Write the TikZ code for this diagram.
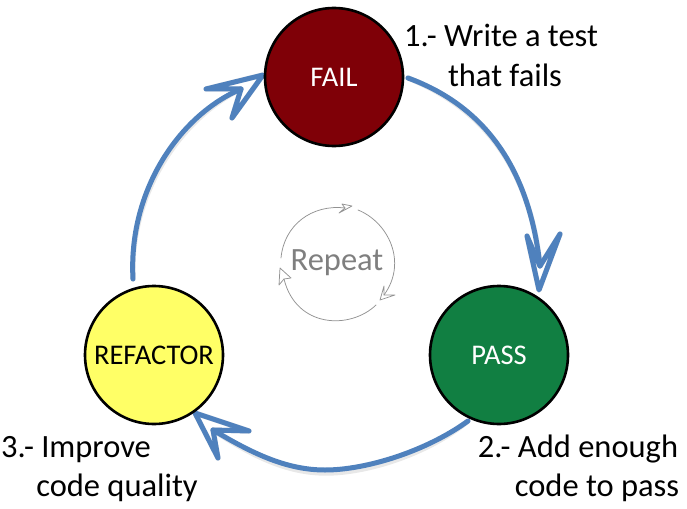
\documentclass[tikz,border=0pt]{standalone}
\usepackage{fontspec}
\setmainfont{Carlito}
\definecolor{flowblue}{HTML}{4F81BD}
\definecolor{failred}{HTML}{7F0007}
\definecolor{passgreen}{HTML}{117F42}
\definecolor{refyellow}{HTML}{FFFF66}
\definecolor{repgray}{HTML}{7F7F7F}
\tikzset{
  state/.style={circle,draw=black,line width=2.6pt,minimum size=138pt,inner sep=0pt,font=\fontsize{28.5}{32}\selectfont},
  step label/.style={font=\fontsize{32.5}{38}\selectfont,text=black,inner sep=0pt,align=center},
  flow/.style={draw=flowblue,line width=5pt,line cap=round,line join=round,fill=none},
  flowshadow/.style={draw=black,opacity=.09,line width=5.4pt,line cap=round,line join=round,fill=none,shift={(1,3)}},
  thin flow/.style={draw=repgray!85,line width=.75pt,line cap=round,line join=round,fill=none},
}
\begin{document}
\begin{tikzpicture}[x=1pt,y=-1pt]
\useasboundingbox (0,0) rectangle (687,508);

% arrow end points
\coordinate (a1s) at (408,78);
\coordinate (a1n) at (540,266);
\coordinate (a1t) at (539,290);
\coordinate (a1l) at (527,236);
\coordinate (a1r) at (560,234);
\coordinate (a2s) at (468,421);
\coordinate (a2n) at (213,430);
\coordinate (a2t) at (195,413);
\coordinate (a2l) at (249,431);
\coordinate (a2r) at (218,458);
\coordinate (a3s) at (133,279);
\coordinate (a3n) at (241,89);
\coordinate (a3t) at (263,75);
\coordinate (a3l) at (206,89);
\coordinate (a3r) at (232,118);

\foreach \st in {flowshadow,flow}{
  \path[\st] (a1s) .. controls (490,108) and (530,175) .. (a1n);
  \path[\st] (a1l) -- (a1n) -- (a1r) -- (a1t) -- cycle;
  \path[\st] (a2s) .. controls (425,452) and (365,470) .. (325,470) .. controls (285,470) and (250,452) .. (a2n);
  \path[\st] (a2l) -- (a2n) -- (a2r) -- (a2t) -- cycle;
  \path[\st] (a3s) .. controls (128,190) and (180,115) .. (a3n);
  \path[\st] (a3l) -- (a3n) -- (a3r) -- (a3t) -- cycle;
}

\node[state,fill=failred,text=white] (fail) at (334,77) {FAIL};
\node[state,fill=passgreen,text=white] (pass) at (499,355) {PASS};
\node[state,fill=refyellow,text=black] (refactor) at (154,355) {REFACTOR};

\node[step label,anchor=base] (l1a) at (501,47) {1.- Write a test};
\node[step label,anchor=base] (l1b) at (505,87) {that fails};
\node[step label,anchor=base] (l2a) at (578,457) {2.- Add enough};
\node[step label,anchor=base] (l2b) at (597,496) {code to pass};
\node[step label,anchor=base] (l3a) at (76,457) {3.- Improve};
\node[step label,anchor=base] (l3b) at (117,496) {code quality};

\node[font=\fontsize{32.5}{38}\selectfont,text=repgray,inner sep=0pt,anchor=base] (rep) at (337,270) {Repeat};

% repeat cycle
\coordinate (r1s) at (281,258);
\coordinate (r1t) at (352,206);
\coordinate (r1n) at (345,208);
\coordinate (r1a) at (342,204);
\coordinate (r1b) at (339,213);
\path[thin flow] (r1s) .. controls (284,225) and (312,204) .. (r1n);
\path[thin flow] (r1a) -- (r1t) -- (r1b) -- (r1n) -- cycle;
\coordinate (r2s) at (358,210);
\coordinate (r2t) at (380,300);
\coordinate (r2n) at (384,295);
\coordinate (r2a) at (384,286);
\coordinate (r2b) at (395,295);
\path[thin flow] (r2s) .. controls (388,222) and (408,262) .. (r2n);
\path[thin flow] (r2a) -- (r2t) -- (r2b) -- (r2n) -- cycle;
\coordinate (r3s) at (376,305);
\coordinate (r3t) at (280,268);
\coordinate (r3n) at (284,279);
\coordinate (r3a) at (279,285);
\coordinate (r3b) at (291,278);
\path[thin flow] (r3s) .. controls (350,330) and (296,328) .. (r3n);
\path[thin flow] (r3a) -- (r3t) -- (r3b) -- (r3n) -- cycle;
\end{tikzpicture}
\end{document}
